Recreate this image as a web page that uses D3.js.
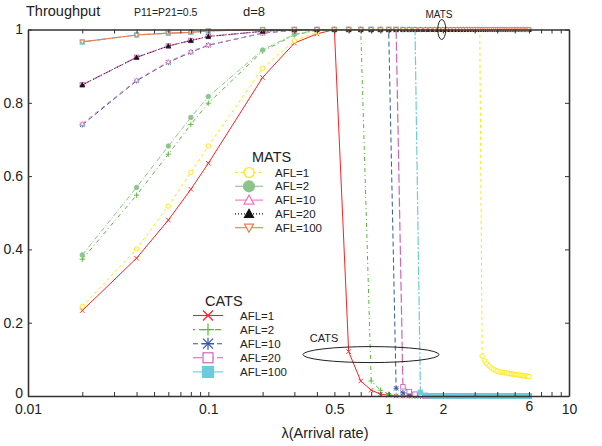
<!DOCTYPE html>
<html><head><meta charset="utf-8">
<script src="https://cdn.jsdelivr.net/npm/d3@7"></script>
<style>
body{margin:0;background:#fff;}
text{font-family:"Liberation Sans",Arial,sans-serif;fill:#222;}
</style>
</head><body><svg id="c" width="602" height="446"></svg>
<script>
// ---------------- data ----------------
const lambda = [0.02,0.04,0.06,0.08,0.1,
 0.2,0.3,0.4,0.5,0.6,0.7,0.8,0.9,1.0,
 1.1,1.2,1.3,1.4,1.5,1.6,1.7,1.8,1.9,2.0,
 2.1,2.2,2.3,2.4,2.5,2.6,2.7,2.8,2.9,3.0,
 3.1,3.2,3.3,3.4,3.5,3.6,3.7,3.8,3.9,4.0,
 4.1,4.2,4.3,4.4,4.5,4.6,4.7,4.8,4.9,5.0,
 5.1,5.2,5.3,5.4,5.5,5.6,5.7,5.8,5.9,6.0];

const matsAFL1 = [0.244,0.401,0.518,0.610,0.682,
 0.894,0.969,0.993,1,1,1,1,1,1,
 1,1,1,1,1,1,1,1,1,1,
 1,1,1,1,1,1,1,1,1,1,
 1,1,0.109,0.096,0.088,0.082,0.077,0.073,0.070,0.068,
 0.066,0.065,0.064,0.063,0.063,0.062,0.061,0.060,0.060,0.059,
 0.058,0.058,0.057,0.056,0.056,0.055,0.055,0.054,0.054,0.053];
const matsAFL2 = [0.385,0.569,0.682,0.760,0.817,
 0.944,0.987,0.998,1,1,1,1,1,1,
 1,1,1,1,1,1,1,1,1,1,
 1,1,1,1,1,1,1,1,1,1,
 1,1,1,1,1,1,1,1,1,1,
 1,1,1,1,1,1,1,1,1,1,
 1,1,1,1,1,1,1,1,1,1];
const matsAFL10 = [0.743,0.862,0.912,0.940,0.958,
 0.990,0.998,1,1,1,1,1,1,1,
 1,1,1,1,1,1,1,1,1,1,
 1,1,1,1,1,1,1,1,1,1,
 1,1,1,1,1,1,1,1,1,1,
 1,1,1,1,1,1,1,1,1,1,
 1,1,1,1,1,1,1,1,1,1];
const matsAFL20 = [0.849,0.924,0.955,0.970,0.981,
 0.995,1,1,1,1,1,1,1,1,
 1,1,1,1,1,1,1,1,1,1,
 1,1,1,1,1,1,1,1,1,1,
 1,1,1,1,1,1,1,1,1,1,
 1,1,1,1,1,1,1,1,1,1,
 1,1,1,1,1,1,1,1,1,1];
const matsAFL100 = [0.966,0.985,0.990,0.992,0.996,
 1,1,1,1,1,1,1,1,1,
 1,1,1,1,1,1,1,1,1,1,
 1,1,1,1,1,1,1,1,1,1,
 1,1,1,1,1,1,1,1,1,1,
 1,1,1,1,1,1,1,1,1,1,
 1,1,1,1,1,1,1,1,1,1];

const catsAFL1 = [0.233,0.376,0.480,0.564,0.635,
 0.869,0.963,0.988,1,0.121,0.041,0.016,0.005,0.002,
 0,0,0,0,0,0,0,0,0,0,
 0,0,0,0,0,0,0,0,0,0,
 0,0,0,0,0,0,0,0,0,0,
 0,0,0,0,0,0,0,0,0,0,
 0,0,0,0,0,0,0,0,0,0];
const catsAFL2 = [0.373,0.548,0.660,0.741,0.799,
 0.941,0.985,0.998,1,1,1,0.041,0.016,0.005,
 0.002,0,0,0,0,0,0,0,0,0,
 0,0,0,0,0,0,0,0,0,0,
 0,0,0,0,0,0,0,0,0,0,
 0,0,0,0,0,0,0,0,0,0,
 0,0,0,0,0,0,0,0,0,0];
const catsAFL10 = [0.740,0.860,0.910,0.938,0.957,
 0.990,0.998,1,1,1,1,1,1,1,
 0.021,0.009,0.003,0.001,0,0,0,0,0,0,
 0,0,0,0,0,0,0,0,0,0,
 0,0,0,0,0,0,0,0,0,0,
 0,0,0,0,0,0,0,0,0,0,
 0,0,0,0,0,0,0,0,0,0];
const catsAFL20 = [0.849,0.924,0.955,0.970,0.981,
 0.995,1,1,1,1,1,1,1,1,
 1,0.025,0.012,0.005,0.002,0,0,0,0,0,
 0,0,0,0,0,0,0,0,0,0,
 0,0,0,0,0,0,0,0,0,0,
 0,0,0,0,0,0,0,0,0,0,
 0,0,0,0,0,0,0,0,0,0];
const catsAFL100 = [0.966,0.985,0.990,0.992,0.996,
 1,1,1,1,1,1,1,1,1,
 1,1,1,1,0.010,0.002,0,0,0,0,
 0,0,0,0,0,0,0,0,0,0,
 0,0,0,0,0,0,0,0,0,0,
 0,0,0,0,0,0,0,0,0,0,
 0,0,0,0,0,0,0,0,0,0];

const legendLabels = ["AFL=1","AFL=2","AFL=10","AFL=20","AFL=100"];
const xTickLabels = [0.01,0.1,0.5,1,2,6,10];
const yTickValues = [0,0.2,0.4,0.6,0.8,1];

// ---------------- styles ----------------
const catsSeries = [
 {v:catsAFL1,  color:"#ff2020", dash:null,        mk:"x",   fill:false, lw:1},
 {v:catsAFL2,  color:"#55bb33", dash:"4,3,1,3",   mk:"+",   fill:false, lw:1},
 {v:catsAFL10, color:"#3355aa", dash:"5,3",       mk:"*",   fill:false, lw:1},
 {v:catsAFL20, color:"#cc66bb", dash:"9,3",       mk:"sq",  fill:false, lw:1.2},
 {v:catsAFL100,color:"#6ccbdc", dash:"9,2,2,2",   mk:"sq",  fill:true,  lw:1.2}
];
const matsSeries = [
 {v:matsAFL1,  color:"#ffe800", dash:"3,3",       mk:"circle", fill:false, lw:1},
 {v:matsAFL2,  color:"#8cc48c", dash:"5,2,1,2",   mk:"circle", fill:true,  lw:1},
 {v:matsAFL10, color:"#ee77bb", dash:"4,4",       mk:"tri",    fill:false, lw:1},
 {v:matsAFL20, color:"#111111", dash:"1,2",       mk:"tri",    fill:true,  lw:1},
 {v:matsAFL100,color:"#f07a50", dash:null,        mk:"triD",   fill:false, lw:1.2}
];

const svg = d3.select("#c");
const L=28, R=569, T=29.5, B=396;
const x = d3.scaleLog().domain([0.01,10]).range([L,R]);
const y = d3.scaleLinear().domain([0,1]).range([B,T]);

function marker(g, type, cx, cy, s, color, fill, lw){
  const h=s/2;
  if(type==="circle"){
    g.append("circle").attr("cx",cx).attr("cy",cy).attr("r",h)
      .attr("fill",fill?color:"#fff").attr("stroke",color).attr("stroke-width",lw);
  } else if(type==="tri"||type==="triD"){
    const d = type==="tri" ? [[0,-h],[h,h*0.8],[-h,h*0.8]] : [[0,h],[h,-h*0.8],[-h,-h*0.8]];
    g.append("path").attr("d","M"+d.map(p=>(cx+p[0])+","+(cy+p[1])).join("L")+"Z")
      .attr("fill",fill?color:"#fff").attr("stroke",color).attr("stroke-width",lw);
  } else if(type==="sq"){
    g.append("rect").attr("x",cx-h).attr("y",cy-h).attr("width",s).attr("height",s)
      .attr("fill",fill?color:"#fff").attr("stroke",color).attr("stroke-width",lw);
  } else {
    const segs=[];
    if(type==="x"||type==="*") segs.push([-h,-h,h,h],[-h,h,h,-h]);
    if(type==="+"||type==="*") segs.push([0,-h*1.2,0,h*1.2],[-h*1.2,0,h*1.2,0]);
    segs.forEach(sg=>g.append("line").attr("x1",cx+sg[0]).attr("y1",cy+sg[1])
      .attr("x2",cx+sg[2]).attr("y2",cy+sg[3]).attr("stroke",color).attr("stroke-width",lw));
  }
}

const line = d3.line().x((d,i)=>x(lambda[i])).y(d=>y(d));
const plotG = svg.append("g");
function drawSeries(s){
  plotG.append("path").attr("d",line(s.v)).attr("fill","none")
    .attr("stroke",s.color).attr("stroke-width",s.lw)
    .attr("stroke-dasharray",s.dash);
  const mg = plotG.append("g");
  s.v.forEach((d,i)=>marker(mg, s.mk, x(lambda[i]), y(d), 4.5, s.color, s.fill, 0.9));
}
catsSeries.forEach(drawSeries);
matsSeries.forEach(drawSeries);

// ---------------- axes ----------------
const allTicks = x.ticks();
const fmt = d=> xTickLabels.some(t=>Math.abs(t-d)<1e-9) ? String(d) : "";
function styleAxis(g){
  g.selectAll(".domain").attr("stroke","#333").attr("stroke-width",1.6);
  g.selectAll(".tick line").attr("stroke","#333").attr("stroke-width",1);
  g.selectAll("text").attr("font-size",14).attr("fill","#222")
   .attr("font-family",'"Liberation Sans",Arial,sans-serif');
}
const xb = svg.append("g").attr("transform",`translate(0,${B})`)
  .call(d3.axisBottom(x).tickValues(allTicks).tickFormat(fmt).tickSizeInner(-4).tickSizeOuter(0).tickPadding(8));
styleAxis(xb);
xb.selectAll(".tick text").filter(d=>Math.abs(d-6)<1e-9).attr("dy","0.5em");
const xt = svg.append("g").attr("transform",`translate(0,${T})`)
  .call(d3.axisTop(x).tickValues(allTicks).tickFormat("").tickSizeInner(-4).tickSizeOuter(0));
styleAxis(xt);
const yl = svg.append("g").attr("transform",`translate(${L},0)`)
  .call(d3.axisLeft(y).tickValues(yTickValues).tickFormat(d=>String(d)).tickSizeInner(-4).tickSizeOuter(0).tickPadding(5));
styleAxis(yl);
yl.selectAll(".tick text").filter(d=>d===0).attr("dy","0.1em");
const yr = svg.append("g").attr("transform",`translate(${R},0)`)
  .call(d3.axisRight(y).tickValues(yTickValues).tickFormat("").tickSizeInner(-4).tickSizeOuter(0));
styleAxis(yr);

// ---------------- annotations ----------------
svg.append("text").attr("x",26).attr("y",16).attr("font-size",14.5).text("Throughput");
svg.append("text").attr("x",134).attr("y",16).attr("font-size",10.5).text("P11=P21=0.5");
svg.append("text").attr("x",243).attr("y",16).attr("font-size",13).text("d=8");
svg.append("text").attr("x",325).attr("y",438).attr("font-size",14.5).attr("text-anchor","middle").text("λ(Arrival rate)");

svg.append("ellipse").attr("cx",x(1.97)).attr("cy",y(1)).attr("rx",4).attr("ry",10)
  .attr("fill","none").attr("stroke","#222").attr("stroke-width",1);
svg.append("text").attr("x",439).attr("y",18).attr("font-size",10).attr("text-anchor","middle").text("MATS");
svg.append("ellipse").attr("cx",371).attr("cy",y(0.113)).attr("rx",68).attr("ry",8)
  .attr("fill","none").attr("stroke","#222").attr("stroke-width",1);
svg.append("text").attr("x",324).attr("y",342).attr("font-size",11).attr("text-anchor","middle").text("CATS");

// ---------------- legends ----------------
function legend(title, series, tx, ty, lx0, lx1, textX, row0, step, sizes, lineDash){
  const g = svg.append("g");
  g.append("text").attr("x",tx).attr("y",ty).attr("font-size",14.5).text(title);
  series.forEach((s,i)=>{
    const cy = row0 + i*step;
    g.append("line").attr("x1",lx0).attr("x2",lx1).attr("y1",cy).attr("y2",cy)
      .attr("stroke",s.color).attr("stroke-width",1.1).attr("stroke-dasharray",lineDash[i]);
    marker(g, s.mk, (lx0+lx1)/2, cy, sizes[i], s.color, s.fill, 1.2);
    g.append("text").attr("x",textX).attr("y",cy+4).attr("font-size",11.5).text(legendLabels[i]);
  });
}
legend("MATS", matsSeries, 252, 162, 235, 263, 275, 172.5, 13.8, [10,11,10,9,9],
  ["3,3",null,null,"1,2",null]);
legend("CATS", catsSeries, 205, 306, 193, 223, 240, 315.5, 14.1, [10,10,10,10,11],
  [null,"2,4,6,4","5,3","9,3",null]);
</script>
</body></html>
